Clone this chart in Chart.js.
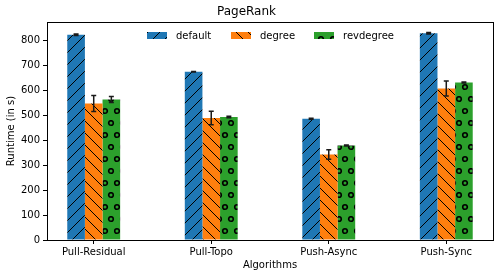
<!DOCTYPE html>
<html>
<head>
<meta charset="utf-8">
<script src="https://cdn.jsdelivr.net/npm/chart.js@4/dist/chart.umd.min.js"></script>
<style>
  html, body { margin: 0; padding: 0; background: #fff; }
</style>
</head>
<body>
<canvas id="chart" width="504" height="278"></canvas>
<script>
const categories = ['Pull-Residual', 'Pull-Topo', 'Push-Async', 'Push-Sync']
const defaultRuntime = [822, 674, 486, 828]
const degreeRuntime = [547, 489, 342, 607]
const revdegreeRuntime = [563, 493, 378, 631]
const defaultErr = [3, 1, 2, 3]
const degreeErr = [32, 27, 19, 30]
const revdegreeErr = [12, 3, 2, 2]
const yTicks = [0, 100, 200, 300, 400, 500, 600, 700, 800]

// hatch patterns like matplotlib '/', '\\' and 'o'
const makePattern = (color, kind) => {
    const c = document.createElement('canvas')
    const size = 12
    c.width = size
    c.height = kind === 'o' ? size * 2 : size
    const g = c.getContext('2d')
    g.fillStyle = color
    g.fillRect(0, 0, c.width, c.height)
    g.strokeStyle = '#000'
    g.lineWidth = 1
    if (kind === '/' || kind === '\\') {
        const segs = kind === '/'
            ? [[-6, 6, 6, -6], [0, 12, 12, 0], [6, 18, 18, 6]]
            : [[-6, 6, 6, 18], [0, 0, 12, 12], [6, -6, 18, 6]]
        g.beginPath()
        segs.forEach(s => { g.moveTo(s[0], s[1]); g.lineTo(s[2], s[3]) })
        g.stroke()
    } else {
        g.lineWidth = 1.6
        const pts = [[3, 3], [15, 3], [3, 27], [15, 27], [9, 15], [-3, 15]]
        pts.forEach(p => {
            g.beginPath()
            g.arc(p[0], p[1], 2.3, 0, Math.PI * 2)
            g.stroke()
        })
    }
    return g.createPattern(c, 'repeat')
}

const toPoints = arr => arr.map((v, i) => ({ x: i, y: v }))

const errorBars = {
    id: 'errorBars',
    afterDatasetsDraw(chart) {
        const ctx = chart.ctx
        const yScale = chart.scales.y
        ctx.save()
        ctx.strokeStyle = '#1a1a1a'
        ctx.lineWidth = 1.5
        chart.data.datasets.forEach((ds, di) => {
            const meta = chart.getDatasetMeta(di)
            meta.data.forEach((bar, i) => {
                const v = ds.data[i].y
                const e = ds.errors[i]
                const top = yScale.getPixelForValue(v + e)
                const bot = yScale.getPixelForValue(v - e)
                const x = bar.x
                ctx.beginPath()
                ctx.moveTo(x, top); ctx.lineTo(x, bot)
                ctx.moveTo(x - 2.5, top); ctx.lineTo(x + 2.5, top)
                ctx.moveTo(x - 2.5, bot); ctx.lineTo(x + 2.5, bot)
                ctx.stroke()
            })
        })
        ctx.restore()
    }
}

// box frame + legend inside the plot, matplotlib style
const frameLegend = {
    id: 'frameLegend',
    afterDraw(chart) {
        const { left, top, right, bottom } = chart.chartArea
        const ctx = chart.ctx
        ctx.save()
        ctx.strokeStyle = '#000'
        ctx.lineWidth = 1
        ctx.strokeRect(Math.round(left) + 0.5, Math.round(top) + 0.5, Math.round(right - left), Math.round(bottom - top))

        const itemX = [147, 231, 314]
        ctx.font = '10px "DejaVu Sans", sans-serif'
        ctx.textBaseline = 'middle'
        ctx.textAlign = 'left'
        chart.data.datasets.forEach((ds, i) => {
            ctx.fillStyle = ds.backgroundColor
            ctx.fillRect(itemX[i], 32, 20, 7)
            ctx.fillStyle = '#000'
            ctx.fillText(ds.label, itemX[i] + 29, 36)
        })
        ctx.restore()
    }
}

Chart.defaults.font.family = '"DejaVu Sans", sans-serif'
Chart.defaults.font.size = 10
Chart.defaults.color = '#000'

new Chart(document.getElementById('chart'), {
    type: 'bar',
    data: {
        datasets: [
            { label: 'default', data: toPoints(defaultRuntime), errors: defaultErr, backgroundColor: makePattern('#1f77b4', '/') },
            { label: 'degree', data: toPoints(degreeRuntime), errors: degreeErr, backgroundColor: makePattern('#ff7f0e', '\\') },
            { label: 'revdegree', data: toPoints(revdegreeRuntime), errors: revdegreeErr, backgroundColor: makePattern('#2ca02c', 'o') },
        ],
    },
    options: {
        responsive: false,
        animation: false,
        categoryPercentage: 0.45,
        barPercentage: 1,
        layout: { padding: { left: 0, right: 11, top: 0, bottom: 0 } },
        plugins: {
            title: {
                display: true,
                text: 'PageRank',
                font: { size: 12, weight: 'normal' },
                padding: { top: 5, bottom: 2.6 },
            },
            legend: { display: false },
            tooltip: { enabled: false },
        },
        scales: {
            x: {
                type: 'linear',
                offset: false,
                min: -0.3975,
                max: 3.3975,
                grid: { offset: false, drawOnChartArea: false, color: '#000', tickLength: 4 },
                border: { color: '#000' },
                afterBuildTicks: scale => { scale.ticks = categories.map((_, i) => ({ value: i })) },
                ticks: {
                    autoSkip: false,
                    maxRotation: 0,
                    padding: 2,
                    callback: v => categories[v],
                },
                title: { display: true, text: 'Algorithms', padding: { top: 0, bottom: 7 } },
                afterFit: scale => { scale.height = 38 },
            },
            y: {
                min: 0,
                max: 873,
                grid: { drawOnChartArea: false, color: '#000', tickLength: 4 },
                border: { color: '#000' },
                afterBuildTicks: scale => { scale.ticks = yTicks.map(v => ({ value: v })) },
                ticks: { padding: 3 },
                title: { display: true, text: 'Runtime (in s)', padding: { top: 5, bottom: 0 } },
                afterFit: scale => { scale.width = 47 },
            },
        },
    },
    plugins: [errorBars, frameLegend],
})
</script>
</body>
</html>
